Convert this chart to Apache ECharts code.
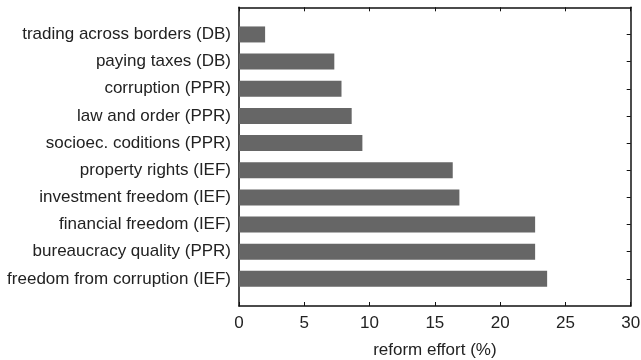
<!DOCTYPE html>
<html><head><meta charset="utf-8">
<script src="https://cdn.jsdelivr.net/npm/echarts@6/dist/echarts.min.js"></script>
<style>html,body{margin:0;padding:0;background:#fff}#c{width:641px;height:360px}</style>
</head><body><div id="c"></div>
<script>
var categories = ['trading across borders (DB)','paying taxes (DB)','corruption (PPR)','law and order (PPR)','socioec. coditions (PPR)','property rights (IEF)','investment freedom (IEF)','financial freedom (IEF)','bureaucracy quality (PPR)','freedom from corruption (IEF)'];
var values = [2.0, 7.3, 7.85, 8.63, 9.45, 16.37, 16.88, 22.68, 22.68, 23.6];
var xTicks = [0,5,10,15,20,25,30];

var cats = [''].concat(categories).concat(['']);
var vals = [null].concat(values).concat([null]);
var font = 'Liberation Sans, Arial, Helvetica, sans-serif';
var fs = 17;
var tickInt = function(i){ return i>0 && i<cats.length-1; };
var line = {show:true,onZero:false,lineStyle:{color:'#111',width:1.5}};
var chart = echarts.init(document.getElementById('c'));
chart.setOption({
  animation:false,
  grid:{left:239,right:10.3,top:7.3,bottom:54,containLabel:false,outerBoundsMode:'none'},
  xAxis:[{type:'value',min:xTicks[0],max:xTicks[xTicks.length-1],interval:5,position:'bottom',
    name:'reform effort (%)',nameLocation:'middle',nameGap:36,
    nameTextStyle:{fontFamily:font,fontSize:fs,color:'#222'},
    axisLine:line,
    axisTick:{show:true,inside:true,length:4,lineStyle:{color:'#111'}},
    axisLabel:{fontFamily:font,fontSize:fs,color:'#222',margin:9},
    splitLine:{show:false}},
   {type:'value',min:0,max:30,interval:5,position:'top',
    axisLine:line,
    axisTick:{show:true,inside:true,length:4,lineStyle:{color:'#111'}},
    axisLabel:{show:false},splitLine:{show:false}}],
  yAxis:[{type:'category',data:cats,inverse:true,boundaryGap:false,position:'left',
    axisLine:line,
    axisTick:{show:true,inside:true,length:4,interval:tickInt,lineStyle:{color:'#111'}},
    axisLabel:{fontFamily:font,fontSize:fs,color:'#222',margin:8,interval:0}},
   {type:'category',data:cats,inverse:true,boundaryGap:false,position:'right',
    axisLine:line,
    axisTick:{show:true,inside:true,length:4,interval:tickInt,lineStyle:{color:'#111'}},
    axisLabel:{show:false}}],
  series:[{type:'bar',data:vals,barWidth:16,itemStyle:{color:'#666666'},xAxisIndex:0,yAxisIndex:0}]
});
</script></body></html>
